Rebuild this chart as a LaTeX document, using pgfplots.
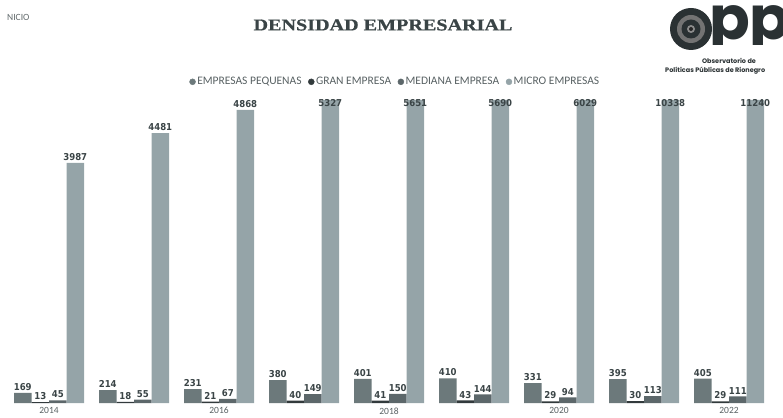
\documentclass[border=0pt]{standalone}
\usepackage{fontspec}
\usepackage{pgfplots}
\usepackage{pgfplotstable}
\pgfplotsset{compat=1.18}
\setmainfont{Carlito}
\newfontfamily\titlefont[FakeStretch=1.22,FakeBold=0.8]{Liberation Serif Bold}
\newfontfamily\lblfont{DejaVu Sans Condensed Bold}
\newfontfamily\logofont{Poppins}
\definecolor{cPeq}{HTML}{6C797B}
\definecolor{cGran}{HTML}{323A3C}
\definecolor{cMed}{HTML}{5C676A}
\definecolor{cMicro}{HTML}{95A4A8}
\definecolor{txt}{HTML}{3A4446}
\definecolor{logo}{HTML}{2A3133}
\pgfplotstableread{
x year peq gran med micro
0 2014 169 13 45 3987
1 2015 214 18 55 4481
2 2016 231 21 67 4868
3 2017 380 40 149 5327
4 2018 401 41 150 5651
5 2019 410 43 144 5690
6 2020 331 29 94 6029
7 2021 395 30 113 10338
8 2022 405 29 111 11240
}\datatable
\begin{document}
\begin{tikzpicture}[x=1pt,y=1pt]
\path[use as bounding box] (0,0) rectangle (783,417);
\begin{scope}
\clip (0,0) rectangle (783,417);
\begin{axis}[
  at={(0pt,14pt)}, anchor=south west,
  scale only axis, width=783pt, height=303pt,
  xmin=-0.5765, xmax=8.635,
  ymin=0, ymax=5030,
  axis line style={draw=none},
  ytick=\empty,
  xtick={0,2,4,6,8},
  xticklabels={2014,2016,2018,2020,2022},
  major tick length=0pt,
  xticklabel style={font=\fontsize{9.5}{10}\selectfont, text=txt!85, yshift=-1pt},
  clip=false,
  /pgf/number format/assume math mode=true,
  /pgf/number format/1000 sep={},
  nodes near coords style={font=\lblfont\fontsize{9.5}{10}\selectfont, text=txt, inner sep=2pt},
  legend columns=4,
  legend style={draw=none, fill=none, at={(0.5045,1.06)}, anchor=center,
    font=\fontsize{11.5}{12}\selectfont, text=txt!85,
    /tikz/every even column/.append style={column sep=5pt},
    nodes={inner sep=1.5pt}},
]
\addlegendimage{legend image code/.code={\fill[cPeq] (0pt,0pt) circle (3pt);}}
\addlegendimage{legend image code/.code={\fill[cGran] (0pt,0pt) circle (3pt);}}
\addlegendimage{legend image code/.code={\fill[cMed] (0pt,0pt) circle (3pt);}}
\addlegendimage{legend image code/.code={\fill[cMicro] (0pt,0pt) circle (3pt);}}
\legend{EMPRESAS PEQUENAS, GRAN EMPRESA, MEDIANA EMPRESA, MICRO EMPRESAS}
\addplot[ybar, bar width=17.5pt, bar shift=-26.25pt, fill=cPeq, draw=none, forget plot,
  nodes near coords, point meta=rawy,
  every node near coord/.append style={xshift=-26.25pt}] table[x=x, y=peq]{\datatable};
\addplot[ybar, bar width=17.5pt, bar shift=-8.75pt, fill=cGran, draw=none, forget plot,
  nodes near coords, point meta=rawy,
  every node near coord/.append style={xshift=-8.75pt}] table[x=x, y=gran]{\datatable};
\addplot[ybar, bar width=17.5pt, bar shift=8.75pt, fill=cMed, draw=none, forget plot,
  nodes near coords, point meta=rawy,
  every node near coord/.append style={xshift=8.75pt}] table[x=x, y=med]{\datatable};
\addplot[ybar, bar width=17.5pt, bar shift=26.25pt, fill=cMicro, draw=none, forget plot,
  restrict y to domain*=0:5030] table[x=x, y=micro]{\datatable};
\addplot[ybar, bar width=17.5pt, bar shift=26.25pt, fill=none, draw=none, forget plot,
  restrict y to domain*=0:4880, nodes near coords, point meta=rawy,
  every node near coord/.append style={xshift=26.25pt}] table[x=x, y=micro]{\datatable};
\end{axis}
% title and header
\node[font=\titlefont\fontsize{16.5}{18}\selectfont, text=txt] at (383,392) {DENSIDAD EMPRESARIAL};
\node[anchor=west, inner sep=0pt, font=\fontsize{9.5}{10}\selectfont, text=txt!80] at (7,400) {NICIO};
% logo
\fill[logo] (691,388) circle (21);
\fill[black!55] (691,388) circle (14);
\fill[logo] (691,388) circle (9.5);
\fill[black!45] (691,388) circle (4);
\fill[black!85] (691,388) circle (2);
\begin{scope}
\clip (700,372) rectangle (783,417);
\node[anchor=base west, inner sep=0pt, font=\logofont\bfseries\fontsize{60}{60}\selectfont, text=logo] at (709,377) {pp};
\end{scope}
\node[inner sep=0pt, font=\logofont\bfseries\fontsize{6.5}{7}\selectfont, text=logo] at (729,356) {Observatorio de};
\node[anchor=west, inner sep=0pt, font=\logofont\bfseries\fontsize{6.5}{7}\selectfont, text=logo] at (665,346) {Políticas Públicas de Rionegro};
\end{scope}
\end{tikzpicture}
\end{document}
